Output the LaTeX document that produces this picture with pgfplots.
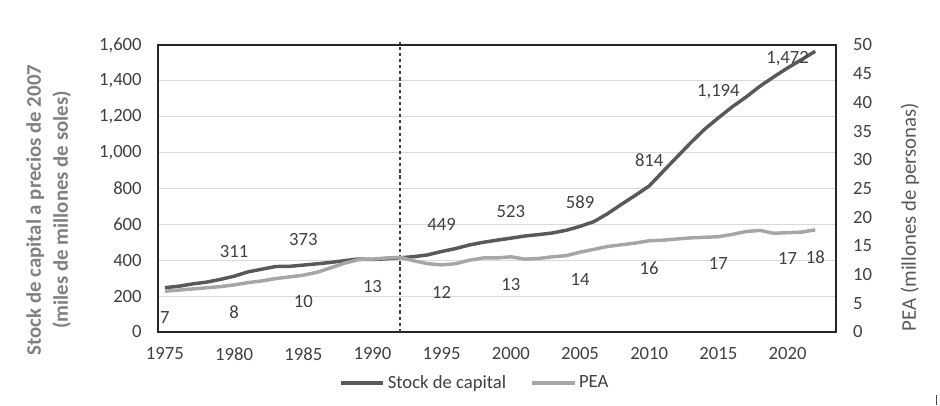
\documentclass[border=0pt]{standalone}
\usepackage{pgfplots}
\pgfplotsset{compat=1.18}
\usepackage{fontspec}
\setmainfont{Carlito}
\definecolor{stockc}{HTML}{595959}
\definecolor{peac}{HTML}{A6A6A6}
\definecolor{tickc}{HTML}{404040}
\definecolor{titlec}{HTML}{808080}
\definecolor{gridc}{HTML}{D9D9D9}

\pgfplotstableread{
year stock
1975 247
1976 255
1977 268
1978 278
1979 293
1980 311
1981 335
1982 350
1983 365
1984 366
1985 373
1986 380
1987 388
1988 398
1989 407
1990 404
1991 408
1992 414
1993 420
1994 430
1995 449
1996 465
1997 485
1998 500
1999 512
2000 523
2001 535
2002 543
2003 552
2004 567
2005 589
2006 615
2007 660
2008 712
2009 762
2010 814
2011 895
2012 975
2013 1055
2014 1130
2015 1194
2016 1255
2017 1310
2018 1370
2019 1422
2020 1472
2021 1518
2022 1565
}\stocktable

\pgfplotstableread{
year pea
1975 7.1
1976 7.3
1977 7.5
1978 7.7
1979 7.9
1980 8.2
1981 8.6
1982 8.9
1983 9.3
1984 9.6
1985 9.9
1986 10.4
1987 11.2
1988 12.0
1989 12.6
1990 12.7
1991 12.9
1992 13.0
1993 12.4
1994 11.9
1995 11.7
1996 11.9
1997 12.5
1998 12.9
1999 12.9
2000 13.1
2001 12.7
2002 12.8
2003 13.1
2004 13.3
2005 13.9
2006 14.4
2007 14.9
2008 15.2
2009 15.5
2010 15.9
2011 16.0
2012 16.2
2013 16.4
2014 16.5
2015 16.6
2016 17.0
2017 17.5
2018 17.7
2019 17.2
2020 17.3
2021 17.4
2022 17.8
}\peatable

% label positions (label centre) and texts
\pgfplotstableread{
year pos label
1980 446 311
1985 513 373
1995 597 449
2000 669 523
2005 725 589
2010 959 814
2015 1338 {1,194}
2020 1522 {1,472}
}\stocklabels

\pgfplotstableread{
year pos label
1975 2.44 7
1980 3.48 8
1985 5.23 10
1990 7.84 13
1995 6.97 12
2000 8.36 13
2005 9.06 14
2010 11.15 16
2015 11.85 17
2020 12.72 17
2022 13.07 18
}\pealabels

\begin{document}
\fontsize{14}{17}\selectfont
\begin{tikzpicture}
\useasboundingbox (0,0) rectangle (705pt,304.5pt);
\pgfplotsset{
  every axis/.append style={
    scale only axis,
    width=508.5pt, height=215.25pt,
    at={(118.5pt,55.5pt)}, anchor=south west,
    xmin=1974.5, xmax=2023.5,
    major tick length=0pt,
    tick label style={font=\fontsize{14}{17}\selectfont, text=tickc},
    /pgf/number format/assume math mode=true,
  }
}
\begin{axis}[
  ymin=0, ymax=1600,
  ytick={0,200,...,1600},
  xtick={1975,1980,...,2020},
  xticklabel style={/pgf/number format/1000 sep={}, yshift=-7pt},
  yticklabel style={/pgf/number format/1000 sep={,}, xshift=-7.4pt},
  ymajorgrids, grid style={gridc, line width=0.8pt},
  axis line style={black!85, line width=1pt},
  clip mode=individual,
  legend style={at={(0.4676,-0.178)}, anchor=center, draw=none, fill=none,
    legend columns=2, font=\fontsize{14}{17}\selectfont, text=tickc,
    /tikz/every even column/.append style={column sep=16pt},
    inner sep=0pt},
  legend cell align=left,
  legend image code/.code={\draw[#1, line width=2.6pt] (0pt,0pt) -- (32pt,0pt);},
]
\addplot[stockc, line width=2.6pt, line join=round] table[x=year, y=stock] {\stocktable};
\addlegendentry{Stock de capital}
\addlegendimage{peac, line width=2.6pt}
\addlegendentry{PEA}
\addplot[draw=none, forget plot, nodes near coords, point meta=explicit symbolic,
  nodes near coords style={anchor=center, text=tickc, font=\fontsize{14}{17}\selectfont, inner sep=0pt}]
  table[x=year, y=pos, meta=label] {\stocklabels};
\addplot[tickc, line width=1pt, dash pattern=on 2.4pt off 2.2pt, forget plot, clip=false] coordinates {(1992,0) (1992,1617)};
\end{axis}
\begin{axis}[
  ymin=0, ymax=50,
  ytick={0,5,...,50},
  axis y line*=right, axis x line=none,
  yticklabel style={xshift=8pt, anchor=west},
  axis line style={draw=none},
]
\addplot[peac, line width=2.6pt, line join=round] table[x=year, y=pea] {\peatable};
\addplot[draw=none, nodes near coords, point meta=explicit symbolic,
  nodes near coords style={anchor=center, text=tickc, font=\fontsize{14}{17}\selectfont, inner sep=0pt}]
  table[x=year, y=pos, meta=label] {\pealabels};
\end{axis}
\node[rotate=90, align=center, text=titlec, font=\bfseries\fontsize{15.6}{20.25}\selectfont]
  at (36.4pt,147pt) {Stock de capital a precios de 2007\\(miles de millones de soles)};
\node[rotate=90, text=stockc, font=\fontsize{15.6}{19}\selectfont]
  at (682.5pt,141.75pt) {PEA (millones de personas)};
\draw[black!70, line width=0.7pt] (702pt,1pt) -- (702pt,8pt);
\end{tikzpicture}
\end{document}
